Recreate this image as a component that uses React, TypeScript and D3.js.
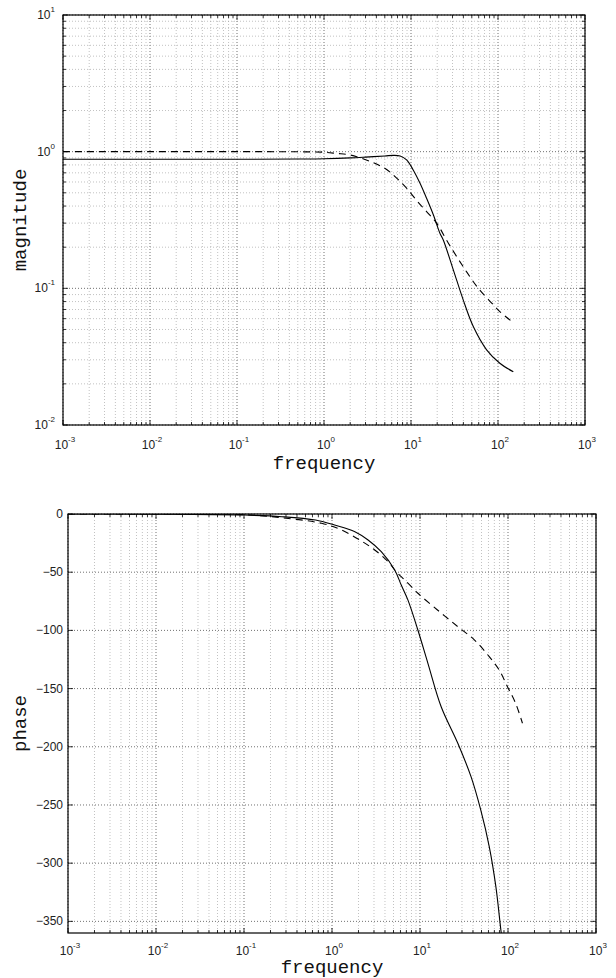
import React from 'react';
import * as d3 from 'd3';

// values
const magFreqSolid = [0.001, 0.01, 0.1, 0.5, 1, 2, 3, 5, 6.3, 7.5, 8.9, 10.6, 12.7, 15.1, 18.1, 21.5, 23.5, 30.7, 39.9, 52, 74, 105, 150];
const magSolid = [0.88, 0.88, 0.88, 0.884, 0.888, 0.9, 0.912, 0.93, 0.94, 0.93, 0.87, 0.735, 0.587, 0.456, 0.344, 0.253, 0.226, 0.136, 0.082, 0.0525, 0.0355, 0.0283, 0.0245];

const magFreqDashed = [0.001, 0.01, 0.1, 0.5, 1, 1.4, 2, 3.7, 5.25, 6.84, 8.9, 11.6, 15.1, 19.7, 26.9, 39.8, 59.4, 84.7, 105, 145];
const magDashed = [1.0, 1.0, 1.0, 0.998, 0.99, 0.97, 0.946, 0.83, 0.74, 0.64, 0.54, 0.44, 0.364, 0.3, 0.214, 0.144, 0.1, 0.078, 0.0676, 0.057];

const phFreqSolid = [0.001, 0.01, 0.1, 0.27, 0.65, 1.07, 1.82, 2.57, 3.63, 5.16, 6.12, 7.3, 9.46, 12.3, 17.4, 26.9, 38, 49, 61.2, 72.8, 83, 86];
const phSolid = [0, -0.1, -0.9, -2.3, -5.2, -9.5, -15.2, -22.3, -32.4, -48.1, -61, -74, -99.7, -128.3, -165.6, -197, -225.7, -254.3, -285.8, -320.2, -357.4, -366];

const phFreqDashed = [0.001, 0.01, 0.1, 0.27, 0.76, 1.28, 2.16, 3.06, 4.34, 5.37, 6.7, 8.7, 9.46, 15.8, 26.9, 41.7, 61.2, 79.4, 98.6, 122, 146];
const phDashed = [0, 0, -0.6, -3.2, -8, -13.7, -23.2, -30.9, -41, -49.6, -56.7, -65.3, -68.1, -82.5, -96.8, -108.3, -122.6, -134, -148.4, -162.6, -179.8];

const freqExps = [-3, -2, -1, 0, 1, 2, 3];
const magExps = [-2, -1, 0, 1];
const phaseTicks = [0, -50, -100, -150, -200, -250, -300, -350];

const TICK_FONT = '"Liberation Sans", Arial, sans-serif';
const LABEL_FONT = '"Liberation Mono", "Courier New", monospace';

const zip = (a: number[], b: number[]) => a.map((v, i) => [v, b[i]] as [number, number]);
const isPow10 = (v: number) => Math.abs(Math.log10(v) - Math.round(Math.log10(v))) < 1e-9;

const Pow = ({ x, y, exp, anchor }: { x: number; y: number; exp: number; anchor: string }) => (
  <text x={x} y={y} textAnchor={anchor} fontFamily={TICK_FONT} fontSize={12} fill="#222">
    10<tspan dy={-7} fontSize={8}>{exp}</tspan>
  </text>
);

export default function App() {
  const top = { l: 63, r: 585, t: 15, b: 425 };
  const bot = { l: 68, r: 596, t: 514, b: 933 };

  const xTop = d3.scaleLog().domain([1e-3, 1e3]).range([top.l, top.r]);
  const yMag = d3.scaleLog().domain([1e-2, 1e1]).range([top.b, top.t]);
  const xBot = d3.scaleLog().domain([1e-3, 1e3]).range([bot.l, bot.r]);
  const yPh = d3.scaleLinear().domain([-360, 0]).range([bot.b, bot.t]);

  const fTicks = xTop.ticks();
  const mTicks = yMag.ticks();

  const curve = d3.curveCatmullRom.alpha(0.5);
  const magLine = d3.line<[number, number]>().x(d => xTop(d[0])).y(d => yMag(d[1])).curve(curve);
  const phLine = d3.line<[number, number]>().x(d => xBot(d[0])).y(d => yPh(d[1])).curve(curve);

  const major = { stroke: '#333', strokeWidth: 0.7, strokeDasharray: '1,2' };
  const minor = { stroke: '#999', strokeWidth: 0.6, strokeDasharray: '1,2' };

  return (
    <svg width={616} height={978} style={{ position: 'absolute', left: 0, top: 0, background: '#fff' }}>
      <defs>
        <clipPath id="clipTop"><rect x={top.l} y={top.t} width={top.r - top.l} height={top.b - top.t} /></clipPath>
        <clipPath id="clipBot"><rect x={bot.l} y={bot.t} width={bot.r - bot.l} height={bot.b - bot.t} /></clipPath>
      </defs>

      {/* magnitude panel */}
      <g>
        {fTicks.map((f, i) => (
          <line key={'fg' + i} x1={xTop(f)} x2={xTop(f)} y1={top.t} y2={top.b} {...(isPow10(f) ? major : minor)} />
        ))}
        {mTicks.map((m, i) => (
          <line key={'mg' + i} x1={top.l} x2={top.r} y1={yMag(m)} y2={yMag(m)} {...(isPow10(m) ? major : minor)} />
        ))}
        {fTicks.map((f, i) => {
          const len = isPow10(f) ? 5 : 3;
          return (
            <g key={'ft' + i} stroke="#000" strokeWidth={0.8}>
              <line x1={xTop(f)} x2={xTop(f)} y1={top.b} y2={top.b - len} />
              <line x1={xTop(f)} x2={xTop(f)} y1={top.t} y2={top.t + len} />
            </g>
          );
        })}
        {mTicks.map((m, i) => {
          const len = isPow10(m) ? 5 : 3;
          return (
            <g key={'mt' + i} stroke="#000" strokeWidth={0.8}>
              <line x1={top.l} x2={top.l + len} y1={yMag(m)} y2={yMag(m)} />
              <line x1={top.r} x2={top.r - len} y1={yMag(m)} y2={yMag(m)} />
            </g>
          );
        })}
        <g clipPath="url(#clipTop)" fill="none" stroke="#000" strokeWidth={1.1}>
          <path d={magLine(zip(magFreqSolid, magSolid)) || ''} />
          <path d={magLine(zip(magFreqDashed, magDashed)) || ''} strokeDasharray="7,5" />
        </g>
        <rect x={top.l} y={top.t} width={top.r - top.l} height={top.b - top.t} fill="none" stroke="#000" strokeWidth={1.2} />
        {freqExps.map(e => (
          <Pow key={'fx' + e} x={xTop(Math.pow(10, e)) + 2} y={top.b + 24} exp={e} anchor="middle" />
        ))}
        {magExps.map(e => (
          <Pow key={'my' + e} x={top.l - 8} y={yMag(Math.pow(10, e)) + 4} exp={e} anchor="end" />
        ))}
        <text x={(top.l + top.r) / 2} y={top.b + 44} textAnchor="middle" fontFamily={LABEL_FONT} fontSize={19} fill="#111">frequency</text>
        <text transform={`translate(26,${(top.t + top.b) / 2}) rotate(-90)`} textAnchor="middle" fontFamily={LABEL_FONT} fontSize={19} fill="#111">magnitude</text>
      </g>

      {/* phase panel */}
      <g>
        {fTicks.map((f, i) => (
          <line key={'pg' + i} x1={xBot(f)} x2={xBot(f)} y1={bot.t} y2={bot.b} {...(isPow10(f) ? major : minor)} />
        ))}
        {phaseTicks.map((p, i) => (
          <line key={'pyg' + i} x1={bot.l} x2={bot.r} y1={yPh(p)} y2={yPh(p)} {...major} />
        ))}
        {fTicks.map((f, i) => {
          const len = isPow10(f) ? 5 : 3;
          return (
            <g key={'pt' + i} stroke="#000" strokeWidth={0.8}>
              <line x1={xBot(f)} x2={xBot(f)} y1={bot.b} y2={bot.b - len} />
              <line x1={xBot(f)} x2={xBot(f)} y1={bot.t} y2={bot.t + len} />
            </g>
          );
        })}
        {phaseTicks.map((p, i) => (
          <g key={'pyt' + i} stroke="#000" strokeWidth={0.8}>
            <line x1={bot.l} x2={bot.l + 5} y1={yPh(p)} y2={yPh(p)} />
            <line x1={bot.r} x2={bot.r - 5} y1={yPh(p)} y2={yPh(p)} />
          </g>
        ))}
        <g clipPath="url(#clipBot)" fill="none" stroke="#000" strokeWidth={1.1}>
          <path d={phLine(zip(phFreqSolid, phSolid)) || ''} />
          <path d={phLine(zip(phFreqDashed, phDashed)) || ''} strokeDasharray="7,5" />
        </g>
        <rect x={bot.l} y={bot.t} width={bot.r - bot.l} height={bot.b - bot.t} fill="none" stroke="#000" strokeWidth={1.2} />
        {freqExps.map(e => (
          <Pow key={'px' + e} x={xBot(Math.pow(10, e)) + 2} y={bot.b + 22} exp={e} anchor="middle" />
        ))}
        {phaseTicks.map(p => (
          <text key={'py' + p} x={bot.l - 5} y={yPh(p) + 4} textAnchor="end" fontFamily={TICK_FONT} fontSize={12} fill="#222">
            {p === 0 ? '0' : '\u2212' + Math.abs(p)}
          </text>
        ))}
        <text x={(bot.l + bot.r) / 2} y={bot.b + 40} textAnchor="middle" fontFamily={LABEL_FONT} fontSize={19} fill="#111">frequency</text>
        <text transform={`translate(26,${(bot.t + bot.b) / 2}) rotate(-90)`} textAnchor="middle" fontFamily={LABEL_FONT} fontSize={19} fill="#111">phase</text>
      </g>
    </svg>
  );
}
